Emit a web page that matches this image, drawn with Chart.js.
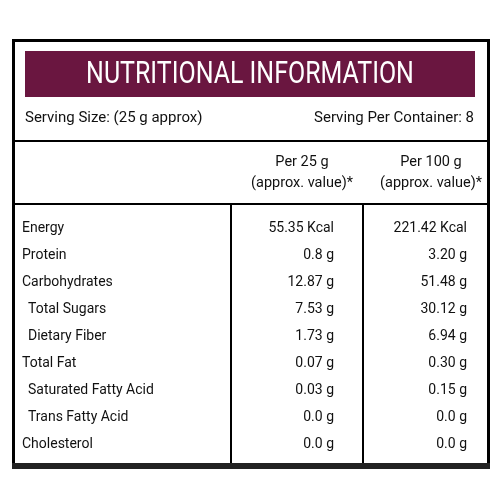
<!DOCTYPE html>
<html>
<head>
<meta charset="utf-8">
<script src="https://cdn.jsdelivr.net/npm/chart.js@4"></script>
<style>
html,body{margin:0;padding:0;background:#fff;}
#wrap{width:500px;height:500px;}
</style>
</head>
<body>
<div id="wrap"><canvas id="nutri"></canvas></div>
<script>
const title = 'NUTRITIONAL INFORMATION';
const servingSize = 'Serving Size: (25 g approx)';
const servingPer = 'Serving Per Container: 8';
const columnHeads = [['Per 25 g', '(approx. value)*'], ['Per 100 g', '(approx. value)*']];
const nutrients = ['Energy', 'Protein', 'Carbohydrates', 'Total Sugars', 'Dietary Fiber',
    'Total Fat', 'Saturated Fatty Acid', 'Trans Fatty Acid', 'Cholesterol'];
const indented = [false, false, false, true, true, false, true, true, false];
const per25 = ['55.35 Kcal', '0.8 g', '12.87 g', '7.53 g', '1.73 g', '0.07 g', '0.03 g', '0.0 g', '0.0 g'];
const per100 = ['221.42 Kcal', '3.20 g', '51.48 g', '30.12 g', '6.94 g', '0.30 g', '0.15 g', '0.0 g', '0.0 g'];

const tablePlugin = {
    id: 'nutritionTable',
    afterDraw(chart) {
        const ctx = chart.ctx;
        ctx.save();
        ctx.fillStyle = '#fff';
        ctx.fillRect(0, 0, 500, 500);

        // purple header band
        ctx.fillStyle = '#6a1640';
        ctx.fillRect(25, 51, 450, 46);
        ctx.fillStyle = '#fff';
        ctx.textAlign = 'center';
        ctx.textBaseline = 'middle';
        ctx.save();
        ctx.translate(250, 75);
        ctx.scale(0.78, 1);
        ctx.font = '32px Roboto';
        ctx.fillText(title, 0, 0);
        ctx.restore();

        ctx.fillStyle = '#111';
        ctx.font = '15px Roboto';
        ctx.textAlign = 'left';
        ctx.fillText(servingSize, 25, 118);
        ctx.textAlign = 'right';
        ctx.fillText(servingPer, 474, 118);

        // lines
        ctx.strokeStyle = '#000';
        ctx.lineWidth = 2;
        ctx.beginPath();
        ctx.moveTo(13, 141); ctx.lineTo(488, 141);
        ctx.moveTo(13, 204); ctx.lineTo(488, 204);
        ctx.moveTo(231, 204); ctx.lineTo(231, 464);
        ctx.moveTo(363, 204); ctx.lineTo(363, 464);
        ctx.stroke();
        ctx.lineWidth = 3;
        ctx.strokeRect(13.5, 40.5, 475, 425);
        ctx.fillStyle = '#222';
        ctx.fillRect(12, 463, 478, 6);

        ctx.fillStyle = '#111';
        ctx.font = '14.5px Roboto';
        ctx.textAlign = 'center';
        const headX = [302, 431];
        columnHeads.forEach((h, i) => {
            ctx.fillText(h[0], headX[i], 162);
            ctx.fillText(h[1], headX[i], 183);
        });

        ctx.font = '14px Roboto';
        nutrients.forEach((n, i) => {
            const y = 228 + i * 27.1;
            ctx.textAlign = 'left';
            ctx.fillText(n, indented[i] ? 28 : 22, y);
            ctx.textAlign = 'right';
            ctx.fillText(per25[i], 334, y);
            ctx.fillText(per100[i], 467, y);
        });
        ctx.restore();
    }
};

new Chart(document.getElementById('nutri'), {
    type: 'bar',
    data: { labels: nutrients, datasets: [{ data: [], label: 'Nutrition' }] },
    options: {
        responsive: true,
        maintainAspectRatio: false,
        animation: false,
        plugins: { legend: { display: false }, tooltip: { enabled: false } },
        scales: { x: { display: false }, y: { display: false } }
    },
    plugins: [tablePlugin]
});
</script>
</body>
</html>
